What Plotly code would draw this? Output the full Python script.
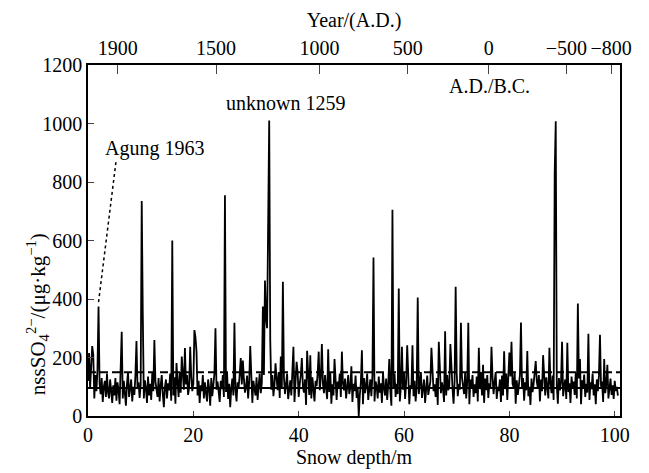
import plotly.graph_objects as go

# ---------------- data ----------------
sample_step_m = 0.2  # sampling interval of the record (m)

# background nssSO4 values, one per 0.2 m from 0 m to 100.6 m
baseline_nss = [
    120, 180, 95, 150, 70, 210, 60, 140, 85, 160, 55, 110, 75, 130, 48, 100, 120, 65, 145, 80, 60, 125, 90, 45, 105,
    70, 130, 52, 115, 88, 40, 140, 95, 60, 120, 78, 35, 110, 150, 65, 90, 125, 50, 100, 72, 138, 58, 95, 115, 62,
    105, 80, 150, 60, 122, 95, 45, 135, 70, 110, 55, 148, 85, 40, 118, 92, 65, 130, 50, 105, 140, 75, 30, 98, 125,
    60, 112, 88, 145, 52, 100, 70, 132, 42, 95, 118, 65, 150, 80, 55, 125, 90, 38, 108, 140, 72, 98, 60, 135, 85,
    110, 150, 95, 130, 70, 120, 45, 105, 85, 140, 60, 115, 78, 50, 125, 95, 35, 130, 68, 100, 145, 55, 90, 118, 75,
    48, 120, 92, 140, 65, 105, 82, 150, 58, 110, 30, 95, 128, 70, 135, 88, 50, 115, 98, 142, 62, 108, 40, 125, 80,
    100, 138, 60, 115, 85, 150, 45, 120, 95, 70, 132, 55, 105, 145, 78, 112, 90, 140, 130, 160, 110, 150, 100, 120, 90,
    140, 68, 105, 50, 128, 88, 150, 62, 115, 95, 40, 130, 75, 108, 145, 58, 98, 122, 70, 135, 85, 48, 118, 92, 150,
    65, 110, 140, 55, 100, 80, 125, 38, 95, 148, 72, 115, 60, 132, 90, 50, 120, 102, 145, 68, 88, 130, 45, 110, 78,
    140, 95, 58, 125, 82, 150, 42, 108, 70, 135, 90, 55, 118, 100, 145, 65, 30, 112, 88, 128, 60, 105, 140, 75, 95,
    120, 48, 110, 85, 138, 62, 100, 150, 70, 115, 92, 40, 130, 78, 105, 145, 55, 98, 125, 68, 140, 88, 50, 118, 102,
    60, 135, 80, 112, 45, 150, 95, 70, 128, 55, 108, 140, 85, 35, 120, 98, 145, 65, 110, 75, 132, 50, 100, 125, 90,
    148, 58, 115, 82, 130, 40, 105, 92, 140, 68, 120, 50, 98, 135, 75, 110, 150, 62, 88, 125, 45, 102, 138, 72, 95,
    118, 55, 142, 85, 108, 65, 130, 38, 100, 150, 78, 115, 92, 48, 128, 70, 140, 88, 105, 60, 135, 95, 42, 120, 80,
    145, 68, 110, 90, 52, 130, 100, 75, 148, 60, 118, 85, 40, 125, 98, 140, 65, 108, 78, 135, 50, 115, 92, 150, 70,
    105, 45, 128, 88, 140, 62, 112, 95, 35, 132, 75, 118, 150, 58, 100, 85, 125, 48, 138, 70, 108, 92, 145, 55, 120,
    80, 135, 60, 110, 98, 148, 42, 122, 72, 105, 140, 65, 95, 130, 52, 115, 88, 150, 68, 100, 38, 128, 82, 110, 145,
    62, 118, 95, 140, 50, 125, 85, 108, 150, 70, 132, 98, 60, 145, 112, 78, 138, 55, 120, 92, 105, 42, 130, 88, 115,
    150, 68, 100, 125, 58, 140, 82, 112, 45, 135, 95, 118, 72, 148, 60, 105, 128, 88, 40, 122, 98, 142, 65, 110, 80,
    130, 55, 115, 92, 145, 70, 108, 40, 125, 85, 138, 62, 100, 118, 48, 135, 78, 110, 150, 60, 95, 128, 72, 105, 58,
    120, 85, 100, 70,
]

# volcanic / episodic spikes read from the record (depth m, value)
event_depths = [
    0.2, 0.8, 2.0, 6.4, 9.2, 10.2, 10.4, 12.6, 16.0, 16.8, 17.8, 18.4, 19.4, 20.2, 20.4, 20.6,
    24.2, 26.0, 27.8, 29.0, 29.4, 30.8, 33.2, 33.6, 33.8, 34.0, 34.2, 34.4, 34.6, 35.6, 36.6, 37.0,
    39.0, 39.6, 40.6, 41.6, 42.2, 43.8, 44.4, 45.6, 46.8, 48.2, 50.0, 51.4, 52.0, 54.2, 57.2, 57.8,
    59.0, 59.6, 60.6, 61.6, 62.6, 65.2, 66.6, 67.8, 68.8, 69.8, 70.8, 72.2, 74.2, 75.0, 76.6, 79.0,
    80.0, 80.4, 82.2, 83.4, 85.0, 86.4, 87.6, 88.6, 88.8, 90.0, 91.0, 93.0, 93.4, 95.0, 97.2, 98.0, 98.6,
]
event_values = [
    215, 239, 374, 288, 256, 735, 350, 260, 600, 181, 203, 232, 237, 294, 270, 220,
    300, 755, 319, 198, 190, 239, 374, 463, 335, 300, 840, 1010, 260, 180, 203, 459,
    237, 185, 198, 223, 208, 220, 246, 228, 195, 220, 170, 0, 225, 542, 195, 705,
    436, 237, 242, 242, 405, 233, 254, 290, 246, 442, 319, 319, 233, 175, 237, 221,
    217, 254, 320, 222, 188, 208, 233, 830, 1008, 254, 250, 385, 195, 281, 278, 195, 175,
]

mean_level = 96        # background mean (solid line)
threshold_level = 150  # mean + 2 sigma (dashed line)

agung_depth = 2.0
agung_value = 374

year_tick_depths = [5.65, 24.3, 43.95, 60.7, 76.1, 90.8, 99.3]
year_tick_labels = ["1900", "1500", "1000", "500", "0", "\u2212500", "\u2212800"]

depth_ticks = [0, 20, 40, 60, 80, 100]
conc_ticks = [0, 200, 400, 600, 800, 1000, 1200]

# ---------------- build series ----------------
nss_values = list(baseline_nss)
for d, v in zip(event_depths, event_values):
    nss_values[int(round(d / sample_step_m))] = v
depth_m = [round(i * sample_step_m, 1) for i in range(len(nss_values))]

FONT = "Liberation Serif"
X_RANGE = [0, 101]

fig = go.Figure()
fig.add_trace(go.Scatter(
    x=depth_m, y=nss_values, mode="lines",
    line=dict(color="black", width=1.8), showlegend=False, hoverinfo="skip",
))
# dummy trace so the top (year) axis is rendered
fig.add_trace(go.Scatter(x=[None], y=[None], xaxis="x2", showlegend=False, hoverinfo="skip"))

fig.update_layout(
    width=649, height=473,
    margin=dict(l=88, r=29, t=65, b=57),
    paper_bgcolor="white", plot_bgcolor="white",
    font=dict(family=FONT, size=20, color="black"),
    xaxis=dict(
        range=X_RANGE, tickvals=depth_ticks, ticks="inside", ticklen=5, tickwidth=1,
        showline=True, linecolor="black", linewidth=1.5, mirror=True,
        showgrid=False, zeroline=False,
        title=dict(text="Snow depth/m", standoff=2, font=dict(size=20)),
        tickfont=dict(size=20),
    ),
    xaxis2=dict(
        overlaying="x", side="top", range=X_RANGE,
        tickvals=year_tick_depths, ticktext=year_tick_labels,
        ticks="inside", ticklen=9, tickwidth=1,
        showline=True, linecolor="black", linewidth=1.5,
        showgrid=False, zeroline=False,
        title=dict(text="Year/(A.D.)", standoff=4, font=dict(size=20)),
        tickfont=dict(size=20),
    ),
    yaxis=dict(
        range=[0, 1200], tickvals=conc_ticks, ticks="inside", ticklen=6, tickwidth=1,
        showline=True, linecolor="black", linewidth=1.5, mirror=True,
        showgrid=False, zeroline=False,
        tickfont=dict(size=20),
    ),
)

# y-axis title as a rotated annotation (placed like the reference)
fig.add_annotation(
    xref="paper", yref="paper", x=-0.096, y=0.29, xanchor="center", yanchor="middle",
    text="nssSO<sub>4</sub><sup>2\u2212</sup>/(\u03bcg\u00b7kg<sup>\u22121</sup>)",
    textangle=-90, showarrow=False, font=dict(size=21, family=FONT),
)

fig.add_hline(y=mean_level, line=dict(color="black", width=2))
fig.add_hline(y=threshold_level, line=dict(color="black", width=2, dash="8px,4px"))

# Agung pointer (dotted)
fig.add_shape(type="line", xref="x", yref="y",
              x0=5.3, y0=868, x1=agung_depth, y1=agung_value + 15,
              line=dict(color="black", width=1.5, dash="dot"))

fig.add_annotation(x=12.6, y=916, xref="x", yref="y", text="Agung 1963",
                   showarrow=False, font=dict(size=20, family=FONT))
fig.add_annotation(x=37.5, y=1070, xref="x", yref="y", text="unknown 1259",
                   showarrow=False, font=dict(size=20, family=FONT))
fig.add_annotation(x=76.2, y=1128, xref="x", yref="y", text="A.D./B.C.",
                   showarrow=False, font=dict(size=20, family=FONT))

fig.write_html(
    "out.html",
    config={"displayModeBar": False},
    post_script="document.body.style.margin='0';document.body.style.padding='0';",
)
